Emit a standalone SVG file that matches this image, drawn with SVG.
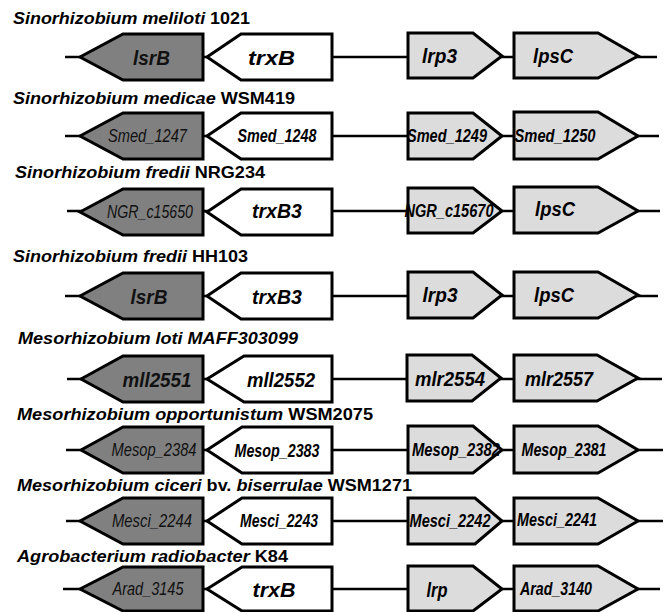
<svg xmlns="http://www.w3.org/2000/svg" width="669" height="612" viewBox="0 0 669 612">
<defs>
<style>
.bg{fill:#ffffff}
.ln{stroke:#000;stroke-width:2.5;fill:none}
.g{fill:#808080;stroke:#000;stroke-width:3;stroke-linejoin:miter}
.w{fill:#ffffff;stroke:#000;stroke-width:3;stroke-linejoin:miter}
.l{fill:#dcdcdc;stroke:#000;stroke-width:3;stroke-linejoin:miter}
.t{font-family:"Liberation Sans",Arial,sans-serif;font-weight:bold;font-size:16.5px;fill:#000}
.i{font-style:italic}
.big{font-family:"Liberation Sans",Arial,sans-serif;font-weight:bold;font-style:italic;font-size:21px;fill:#000;text-anchor:middle}
.sm{font-family:"Liberation Sans",Arial,sans-serif;font-weight:bold;font-style:italic;font-size:18px;fill:#000;text-anchor:middle}
.dk{fill:#111111}
.smd{font-weight:normal;fill:#111111}
</style>
</defs>
<rect class="bg" x="0" y="0" width="669" height="612"/>

<g id="titles">
<text class="t" x="13" y="24" textLength="237" lengthAdjust="spacingAndGlyphs"><tspan class="i">Sinorhizobium meliloti</tspan> 1021</text>
<text class="t" x="13" y="104" textLength="282" lengthAdjust="spacingAndGlyphs"><tspan class="i">Sinorhizobium medicae</tspan> WSM419</text>
<text class="t" x="15" y="178" textLength="250" lengthAdjust="spacingAndGlyphs"><tspan class="i">Sinorhizobium fredii</tspan> NRG234</text>
<text class="t" x="13" y="262" textLength="235" lengthAdjust="spacingAndGlyphs"><tspan class="i">Sinorhizobium fredii</tspan> HH103</text>
<text class="t i" x="18" y="344" textLength="280" lengthAdjust="spacingAndGlyphs">Mesorhizobium loti MAFF303099</text>
<text class="t" x="17" y="420" textLength="356" lengthAdjust="spacingAndGlyphs"><tspan class="i">Mesorhizobium opportunistum</tspan> WSM2075</text>
<text class="t" x="17" y="491" textLength="395" lengthAdjust="spacingAndGlyphs"><tspan class="i">Mesorhizobium ciceri</tspan> bv. <tspan class="i">biserrulae</tspan> WSM1271</text>
<text class="t" x="17" y="562" textLength="271" lengthAdjust="spacingAndGlyphs"><tspan class="i">Agrobacterium radiobacter</tspan> K84</text>
</g>

<g id="connectors">
<line class="ln" x1="65" y1="57" x2="657" y2="57"/>
<line class="ln" x1="65" y1="136" x2="659" y2="136"/>
<line class="ln" x1="67" y1="211" x2="660" y2="211"/>
<line class="ln" x1="65" y1="296" x2="658" y2="296"/>
<line class="ln" x1="67" y1="379" x2="662" y2="379"/>
<line class="ln" x1="66" y1="450" x2="663" y2="450"/>
<line class="ln" x1="66" y1="521" x2="663" y2="521"/>
<line class="ln" x1="63" y1="589" x2="660" y2="589"/>
</g>

<!-- Row 1 -->
<g id="r1g1"><polygon class="g" points="80,57 123,34 203,34 203,80 123,80"/><text class="big dk" x="151.5" y="65" textLength="37" lengthAdjust="spacingAndGlyphs">lsrB</text></g>
<g id="r1g2"><polygon class="w" points="207,57 241,34 332,34 332,80 241,80"/><text class="big" x="271.5" y="65" textLength="47" lengthAdjust="spacingAndGlyphs">trxB</text></g>
<g id="r1g3"><polygon class="l" points="408,33 473,33 502,56 473,78 408,78"/><text class="big" x="439.5" y="63" textLength="35" lengthAdjust="spacingAndGlyphs">lrp3</text></g>
<g id="r1g4"><polygon class="l" points="514,33 598,33 638,56 598,78 514,78"/><text class="big" x="553" y="63" textLength="40" lengthAdjust="spacingAndGlyphs">lpsC</text></g>

<!-- Row 2 -->
<g id="r2g1"><polygon class="g" points="80,136 123,113 203,113 203,159 123,159"/><text class="sm smd" x="147.5" y="142" textLength="79" lengthAdjust="spacingAndGlyphs">Smed_1247</text></g>
<g id="r2g2"><polygon class="w" points="207,136 241,113 332,113 332,159 241,159"/><text class="sm" x="277" y="142" textLength="79" lengthAdjust="spacingAndGlyphs">Smed_1248</text></g>
<g id="r2g3"><polygon class="l" points="408,113 473,113 502,136 473,159 408,159"/><text class="sm" x="447" y="142" textLength="80" lengthAdjust="spacingAndGlyphs">Smed_1249</text></g>
<g id="r2g4"><polygon class="l" points="514,112 598,112 638,136 598,159 514,159"/><text class="sm" x="555" y="142" textLength="81" lengthAdjust="spacingAndGlyphs">Smed_1250</text></g>

<!-- Row 3 -->
<g id="r3g1"><polygon class="g" points="80,212 123,189 203,189 203,235 123,235"/><text class="sm smd" x="150" y="218" textLength="86" lengthAdjust="spacingAndGlyphs">NGR_c15650</text></g>
<g id="r3g2"><polygon class="w" points="207,212 241,189 332,189 332,235 241,235"/><text class="big" x="277" y="218" textLength="50" lengthAdjust="spacingAndGlyphs">trxB3</text></g>
<g id="r3g3"><polygon class="l" points="408,188 473,188 502,211 473,233 408,233"/><text class="sm" x="449" y="217" textLength="89" lengthAdjust="spacingAndGlyphs">NGR_c15670</text></g>
<g id="r3g4"><polygon class="l" points="514,187 598,187 638,211 598,233 514,233"/><text class="big" x="555" y="216" textLength="40" lengthAdjust="spacingAndGlyphs">lpsC</text></g>

<!-- Row 4 -->
<g id="r4g1"><polygon class="g" points="80,296 123,273 203,273 203,319 123,319"/><text class="big dk" x="149" y="304" textLength="37" lengthAdjust="spacingAndGlyphs">lsrB</text></g>
<g id="r4g2"><polygon class="w" points="207,296 241,273 332,273 332,319 241,319"/><text class="big" x="277" y="304" textLength="50" lengthAdjust="spacingAndGlyphs">trxB3</text></g>
<g id="r4g3"><polygon class="l" points="408,272 473,272 502,295 473,318 408,318"/><text class="big" x="440" y="302" textLength="35" lengthAdjust="spacingAndGlyphs">lrp3</text></g>
<g id="r4g4"><polygon class="l" points="514,272 598,272 638,295 598,318 514,318"/><text class="big" x="554" y="302" textLength="40" lengthAdjust="spacingAndGlyphs">lpsC</text></g>

<!-- Row 5 -->
<g id="r5g1"><polygon class="g" points="81,379 123,356 203,356 203,402 123,402"/><text class="big dk" x="157" y="387" textLength="69" lengthAdjust="spacingAndGlyphs">mll2551</text></g>
<g id="r5g2"><polygon class="w" points="207,379 244,356 332,356 332,402 244,402"/><text class="big" x="281" y="387" textLength="68" lengthAdjust="spacingAndGlyphs">mll2552</text></g>
<g id="r5g3"><polygon class="l" points="407,355 472,355 501,378 472,401 407,401"/><text class="big" x="450" y="386" textLength="70" lengthAdjust="spacingAndGlyphs">mlr2554</text></g>
<g id="r5g4"><polygon class="l" points="514,355 597,355 638,378 597,401 514,401"/><text class="big" x="559" y="386" textLength="68" lengthAdjust="spacingAndGlyphs">mlr2557</text></g>

<!-- Row 6 -->
<g id="r6g1"><polygon class="g" points="81,450 123,427 203,427 203,473 123,473"/><text class="sm smd" x="154" y="456" textLength="85" lengthAdjust="spacingAndGlyphs">Mesop_2384</text></g>
<g id="r6g2"><polygon class="w" points="207,450 242,427 332,427 332,473 242,473"/><text class="sm" x="277" y="457" textLength="85" lengthAdjust="spacingAndGlyphs">Mesop_2383</text></g>
<g id="r6g3"><polygon class="l" points="408,426 473,426 502,450 473,473 408,473"/><text class="sm" x="456" y="456" textLength="88" lengthAdjust="spacingAndGlyphs">Mesop_2382</text></g>
<g id="r6g4"><polygon class="l" points="514,426 598,426 638,450 598,473 514,473"/><text class="sm" x="564" y="456" textLength="85" lengthAdjust="spacingAndGlyphs">Mesop_2381</text></g>

<!-- Row 7 -->
<g id="r7g1"><polygon class="g" points="80,521 123,498 203,498 203,544 123,544"/><text class="sm smd" x="152" y="527" textLength="80" lengthAdjust="spacingAndGlyphs">Mesci_2244</text></g>
<g id="r7g2"><polygon class="w" points="207,521 242,498 332,498 332,544 242,544"/><text class="sm" x="279" y="527" textLength="78" lengthAdjust="spacingAndGlyphs">Mesci_2243</text></g>
<g id="r7g3"><polygon class="l" points="408,498 475,498 502,521 475,544 408,544"/><text class="sm" x="450" y="527" textLength="81" lengthAdjust="spacingAndGlyphs">Mesci_2242</text></g>
<g id="r7g4"><polygon class="l" points="514,498 598,498 638,521 598,544 514,544"/><text class="sm" x="557" y="526" textLength="80" lengthAdjust="spacingAndGlyphs">Mesci_2241</text></g>

<!-- Row 8 -->
<g id="r8g1"><polygon class="g" points="80,589 123,567 203,567 203,611 123,611"/><text class="sm smd" x="148" y="595" textLength="71" lengthAdjust="spacingAndGlyphs">Arad_3145</text></g>
<g id="r8g2"><polygon class="w" points="207,589 242,567 332,567 332,611 242,611"/><text class="big" x="274" y="597" textLength="43" lengthAdjust="spacingAndGlyphs">trxB</text></g>
<g id="r8g3"><polygon class="l" points="408,566 473,566 502,589 473,611 408,611"/><text class="big" x="437" y="597" textLength="21" lengthAdjust="spacingAndGlyphs">lrp</text></g>
<g id="r8g4"><polygon class="l" points="514,566 598,566 638,589 598,611 514,611"/><text class="sm" x="556" y="595" textLength="72" lengthAdjust="spacingAndGlyphs">Arad_3140</text></g>
</svg>
